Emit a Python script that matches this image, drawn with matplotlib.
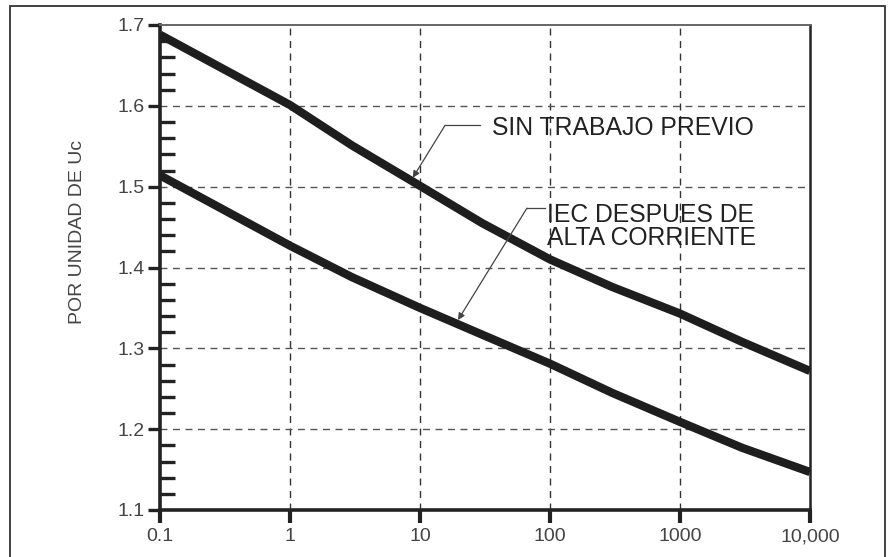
import matplotlib
matplotlib.use("Agg")
import matplotlib.pyplot as plt
from matplotlib.ticker import FixedLocator, FixedFormatter, NullLocator, MultipleLocator
from matplotlib.patches import Rectangle

plt.rcParams['font.family'] = ['Liberation Sans', 'DejaVu Sans']

# Data
x_vals = [0.1, 1, 3, 10, 30, 100, 300, 1000, 3000, 10000]
sin_trabajo = [1.688, 1.601, 1.551, 1.501, 1.455, 1.410, 1.376, 1.343, 1.308, 1.272]
iec_alta = [1.514, 1.427, 1.388, 1.350, 1.317, 1.281, 1.245, 1.209, 1.177, 1.147]
x_ticks = [0.1, 1, 10, 100, 1000, 10000]
x_labels = ["0.1", "1", "10", "100", "1000", "10,000"]
y_ticks = [1.1, 1.2, 1.3, 1.4, 1.5, 1.6, 1.7]
y_labels = ["1.1", "1.2", "1.3", "1.4", "1.5", "1.6", "1.7"]

W, H = 890, 557
fig = plt.figure(figsize=(W / 100, H / 100), dpi=100)
fig.patch.set_facecolor('white')

# outer frame
fig.patches.append(Rectangle((10 / W, -0.01), 875 / W, 1 - 6 / H + 0.01,
                             transform=fig.transFigure, fill=False,
                             edgecolor='#333333', linewidth=1.3))

ax = fig.add_axes([160 / W, 47 / H, 650 / W, 485 / H])
ax.set_xscale('log')
ax.set_xlim(0.1, 10000)
ax.set_ylim(1.1, 1.7)

line_color = '#1e1e1e'
ax.plot(x_vals, sin_trabajo, color=line_color, lw=6.0, solid_capstyle='butt',
        solid_joinstyle='round', zorder=3)
ax.plot(x_vals, iec_alta, color=line_color, lw=6.0, solid_capstyle='butt',
        solid_joinstyle='round', zorder=3)

# ticks
ax.xaxis.set_major_locator(FixedLocator(x_ticks))
ax.xaxis.set_major_formatter(FixedFormatter(x_labels))
ax.xaxis.set_minor_locator(NullLocator())
ax.yaxis.set_major_locator(FixedLocator(y_ticks))
ax.yaxis.set_major_formatter(FixedFormatter(y_labels))
ax.yaxis.set_minor_locator(MultipleLocator(0.02))

ax.tick_params(axis='x', which='major', direction='out', length=9, width=3,
               color='#222222', labelsize=14, labelcolor='#444444', pad=4)
ax.tick_params(axis='y', which='major', direction='out', length=9, width=2.4,
               color='#222222', labelsize=14, labelcolor='#444444', pad=2)
ax.tick_params(axis='y', which='minor', direction='in', length=11, width=2.4,
               color='#222222')

for s in ['left', 'bottom']:
    ax.spines[s].set_linewidth(2.6)
    ax.spines[s].set_color('#222222')
ax.spines['right'].set_linewidth(1.8)
ax.spines['right'].set_color('#222222')
ax.spines['top'].set_linewidth(1.4)
ax.spines['top'].set_color('#666666')

# grid
for xv in x_ticks[1:-1]:
    ax.axvline(xv, color='#333333', lw=1.0, ls=(0, (5, 4)), zorder=1)
for yv in y_ticks[1:-1]:
    ax.axhline(yv, color='#555555', lw=1.0, ls=(0, (5, 4)), zorder=1)

ax.set_ylabel("POR UNIDAD DE Uc", fontsize=14, color='#444444')
ax.yaxis.set_label_coords(-0.114, 0.573)

# annotations
arrow_kw = dict(arrowstyle='-|>', color='#444444', lw=0.9,
                mutation_scale=10, shrinkA=0, shrinkB=0)
ax.annotate('', xy=(8.8, 1.511), xytext=(15.6, 1.576), arrowprops=arrow_kw, zorder=4)
ax.plot([15.6, 28.9], [1.576, 1.576], color='#444444', lw=0.9, zorder=4)
ax.text(36.0, 1.573, "SIN TRABAJO PREVIO", fontsize=17.8, color='#222222',
        va='center', ha='left')

ax.annotate('', xy=(19.6, 1.335), xytext=(66.5, 1.4735), arrowprops=arrow_kw, zorder=4)
ax.plot([66.5, 91.5], [1.4735, 1.4735], color='#444444', lw=0.9, zorder=4)
ax.text(95, 1.451, "IEC DESPUES DE\nALTA CORRIENTE", fontsize=17.8, color='#222222',
        va='center', ha='left', linespacing=0.95)

fig.savefig('out.png', dpi=100, facecolor='white')
